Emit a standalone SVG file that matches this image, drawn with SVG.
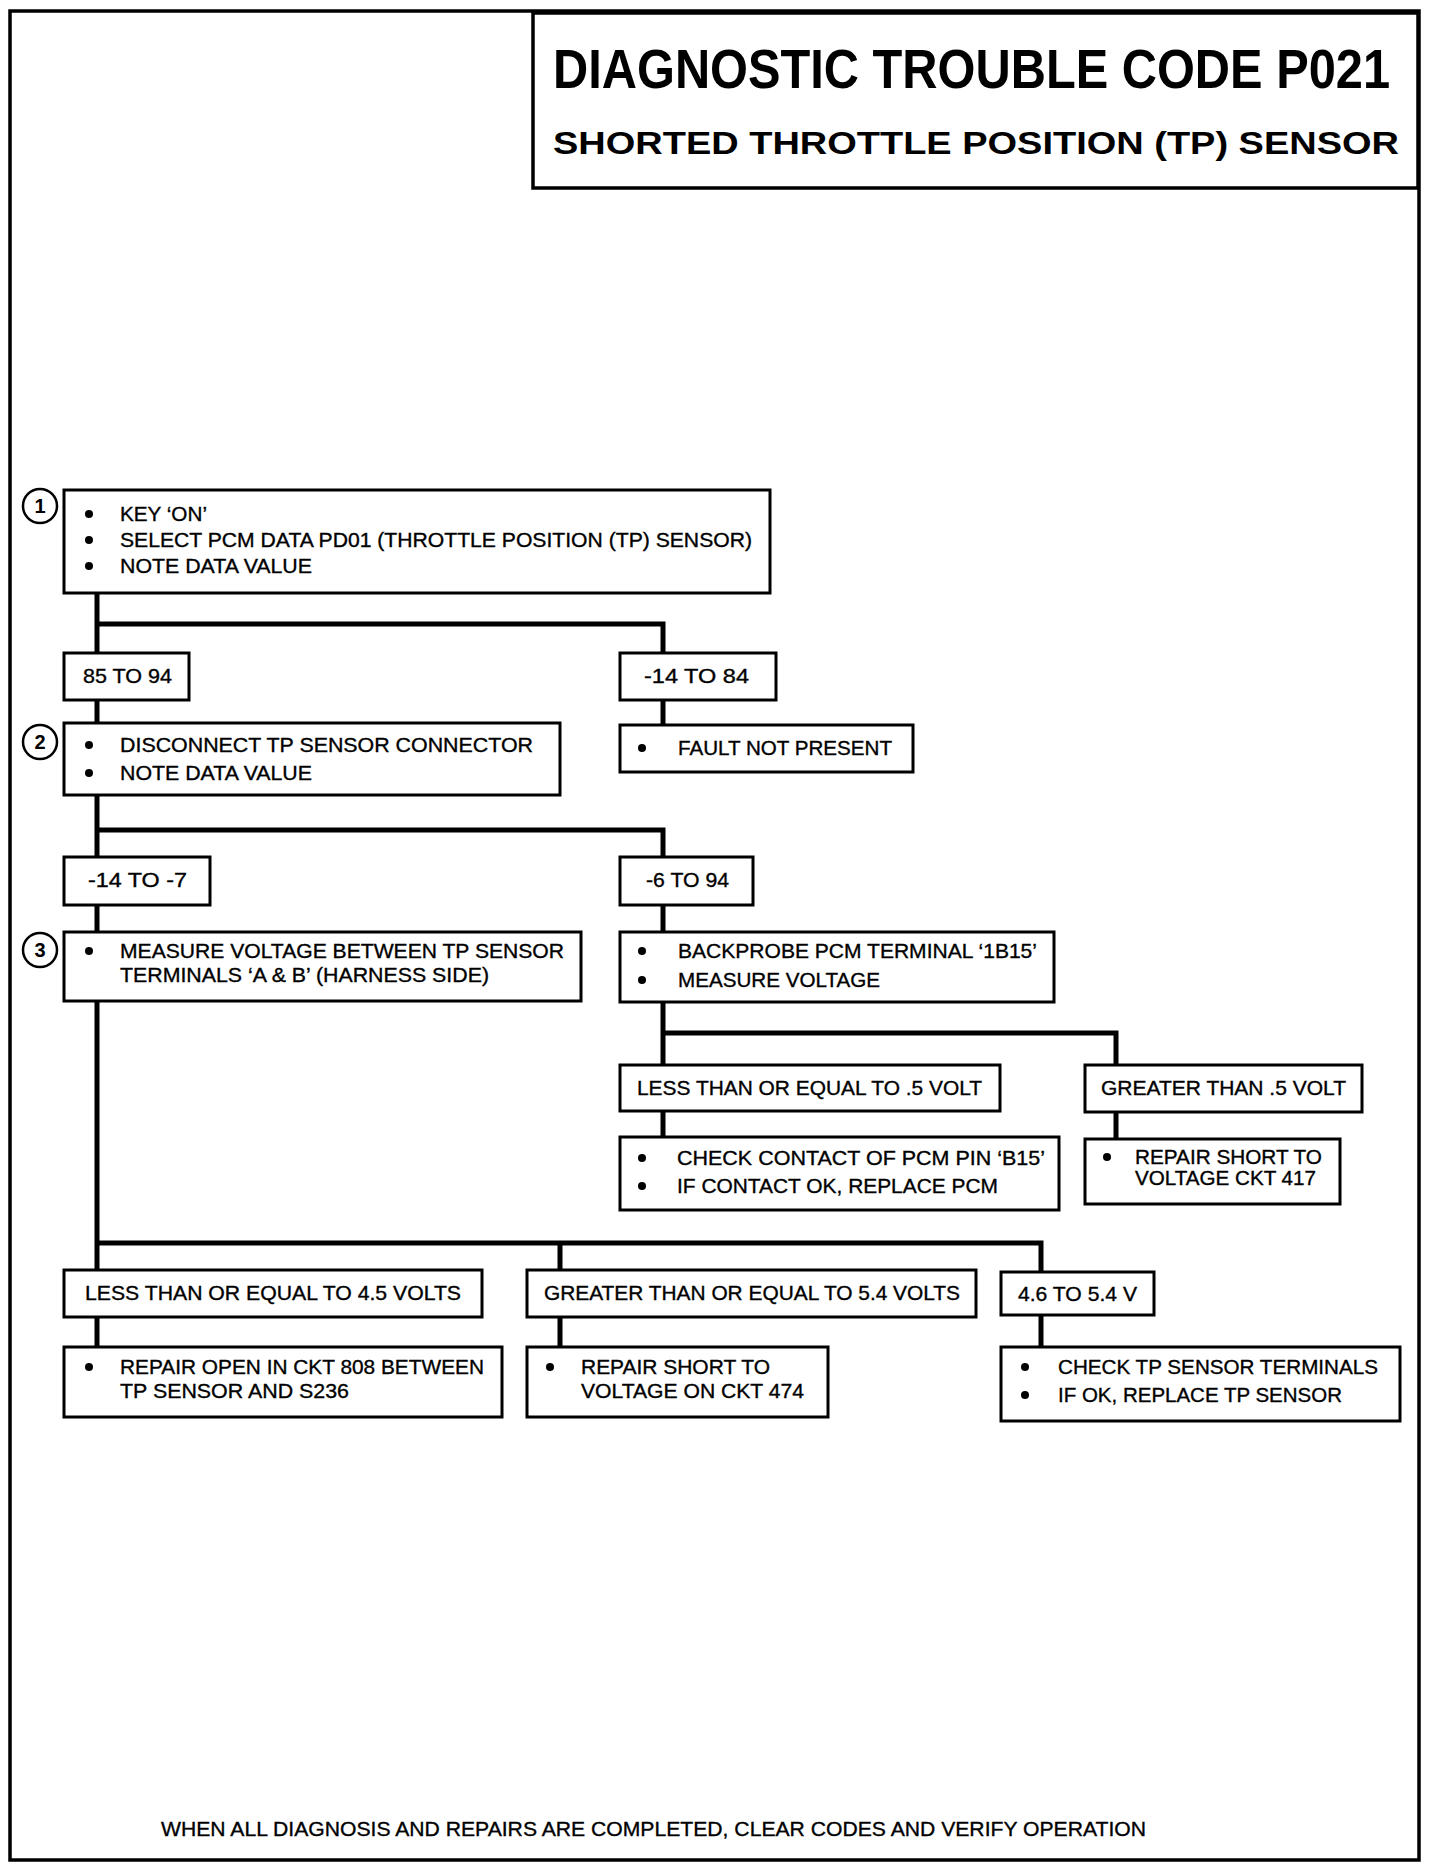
<svg xmlns="http://www.w3.org/2000/svg" width="1440" height="1868" viewBox="0 0 1440 1868">
<style>
.frame{fill:none;stroke:#000;stroke-width:3.5}
.box{fill:#fff;stroke:#000;stroke-width:3}
.conn{fill:none;stroke:#000;stroke-width:5;stroke-linecap:square;stroke-linejoin:miter}
.t{font-family:"Liberation Sans",Arial,Helvetica,sans-serif;font-size:21px;fill:#000;stroke:#000;stroke-width:0.35}
.h{font-family:"Liberation Sans",Arial,Helvetica,sans-serif;font-weight:bold;fill:#000}
.num{fill:#fff;stroke:#000;stroke-width:2.5}
.nt{font-family:"Liberation Sans",Arial,Helvetica,sans-serif;font-weight:bold;font-size:20px;fill:#000;text-anchor:middle}
</style>
<rect width="1440" height="1868" fill="#fff"/>
<rect class="frame" x="10" y="11" width="1409" height="1849"/>
<g id="title">
<rect class="frame" x="533" y="13" width="885" height="175"/>
<text class="h" transform="translate(553,88) scale(1,1.28)" x="0" y="0" font-size="44" textLength="837" lengthAdjust="spacingAndGlyphs">DIAGNOSTIC TROUBLE CODE P021</text>
<text class="h" x="553" y="154" font-size="31" textLength="846" lengthAdjust="spacingAndGlyphs">SHORTED THROTTLE POSITION (TP) SENSOR</text>
</g>
<g id="connectors">
<path class="conn" d="M97,593 V653 M97,624 H663 V653 M97,700 V723 M663,700 V725 M97,795 V857 M97,830 H663 V857 M97,905 V932 M663,905 V932 M97,1001 V1270 M663,1002 V1065 M663,1033 H1116 V1065 M663,1111 V1137 M1116,1112 V1139 M97,1243 H1041 V1272 M560,1243 V1270 M97,1317 V1347 M560,1317 V1347 M1041,1315 V1347"/>
</g>
<g id="step1">
<circle class="num" cx="40" cy="506" r="17"/><text class="nt" x="40" y="513">1</text>
<rect class="box" x="64" y="490" width="706" height="103"/>
<circle cx="89" cy="514" r="4"/><circle cx="89" cy="540" r="4"/><circle cx="89" cy="566" r="4"/>
<text class="t" x="120" y="521" textLength="87" lengthAdjust="spacingAndGlyphs">KEY ‘ON’</text>
<text class="t" x="120" y="547" textLength="632" lengthAdjust="spacingAndGlyphs">SELECT PCM DATA PD01 (THROTTLE POSITION (TP) SENSOR)</text>
<text class="t" x="120" y="573" textLength="192" lengthAdjust="spacingAndGlyphs">NOTE DATA VALUE</text>
</g>
<g id="r85to94">
<rect class="box" x="64" y="653" width="125" height="47"/>
<text class="t" x="83" y="683" textLength="89" lengthAdjust="spacingAndGlyphs">85 TO 94</text>
</g>
<g id="rm14to84">
<rect class="box" x="620" y="653" width="156" height="47"/>
<text class="t" x="644" y="683" textLength="105" lengthAdjust="spacingAndGlyphs">-14 TO 84</text>
</g>
<g id="step2">
<circle class="num" cx="40" cy="742" r="17"/><text class="nt" x="40" y="749">2</text>
<rect class="box" x="64" y="723" width="496" height="72"/>
<circle cx="89" cy="745" r="4"/><circle cx="89" cy="773" r="4"/>
<text class="t" x="120" y="752" textLength="413" lengthAdjust="spacingAndGlyphs">DISCONNECT TP SENSOR CONNECTOR</text>
<text class="t" x="120" y="780" textLength="192" lengthAdjust="spacingAndGlyphs">NOTE DATA VALUE</text>
</g>
<g id="faultnotpresent">
<rect class="box" x="620" y="725" width="293" height="47"/>
<circle cx="642" cy="748" r="4"/>
<text class="t" x="678" y="755" textLength="214" lengthAdjust="spacingAndGlyphs">FAULT NOT PRESENT</text>
</g>
<g id="rm14tom7">
<rect class="box" x="64" y="857" width="146" height="48"/>
<text class="t" x="88" y="887" textLength="99" lengthAdjust="spacingAndGlyphs">-14 TO -7</text>
</g>
<g id="rm6to94">
<rect class="box" x="620" y="857" width="133" height="48"/>
<text class="t" x="646" y="887" textLength="83" lengthAdjust="spacingAndGlyphs">-6 TO 94</text>
</g>
<g id="step3">
<circle class="num" cx="40" cy="950" r="17"/><text class="nt" x="40" y="957">3</text>
<rect class="box" x="64" y="932" width="517" height="69"/>
<circle cx="89" cy="951" r="4"/>
<text class="t" x="120" y="958" textLength="444" lengthAdjust="spacingAndGlyphs">MEASURE VOLTAGE BETWEEN TP SENSOR</text>
<text class="t" x="120" y="982" textLength="369" lengthAdjust="spacingAndGlyphs">TERMINALS ‘A &amp; B’ (HARNESS SIDE)</text>
</g>
<g id="backprobe">
<rect class="box" x="620" y="932" width="434" height="70"/>
<circle cx="642" cy="951" r="4"/><circle cx="642" cy="980" r="4"/>
<text class="t" x="678" y="958" textLength="359" lengthAdjust="spacingAndGlyphs">BACKPROBE PCM TERMINAL ‘1B15’</text>
<text class="t" x="678" y="987" textLength="202" lengthAdjust="spacingAndGlyphs">MEASURE VOLTAGE</text>
</g>
<g id="le05">
<rect class="box" x="620" y="1065" width="380" height="46"/>
<text class="t" x="637" y="1095" textLength="345" lengthAdjust="spacingAndGlyphs">LESS THAN OR EQUAL TO .5 VOLT</text>
</g>
<g id="gt05">
<rect class="box" x="1085" y="1065" width="277" height="47"/>
<text class="t" x="1101" y="1095" textLength="245" lengthAdjust="spacingAndGlyphs">GREATER THAN .5 VOLT</text>
</g>
<g id="checkcontact">
<rect class="box" x="620" y="1137" width="439" height="73"/>
<circle cx="642" cy="1158" r="4"/><circle cx="642" cy="1186" r="4"/>
<text class="t" x="677" y="1165" textLength="368" lengthAdjust="spacingAndGlyphs">CHECK CONTACT OF PCM PIN ‘B15’</text>
<text class="t" x="677" y="1193" textLength="321" lengthAdjust="spacingAndGlyphs">IF CONTACT OK, REPLACE PCM</text>
</g>
<g id="repair417">
<rect class="box" x="1085" y="1139" width="255" height="65"/>
<circle cx="1107" cy="1157" r="4"/>
<text class="t" x="1135" y="1164" textLength="187" lengthAdjust="spacingAndGlyphs">REPAIR SHORT TO</text>
<text class="t" x="1135" y="1185" textLength="181" lengthAdjust="spacingAndGlyphs">VOLTAGE CKT 417</text>
</g>
<g id="le45">
<rect class="box" x="64" y="1270" width="418" height="47"/>
<text class="t" x="85" y="1300" textLength="376" lengthAdjust="spacingAndGlyphs">LESS THAN OR EQUAL TO 4.5 VOLTS</text>
</g>
<g id="ge54">
<rect class="box" x="527" y="1270" width="449" height="47"/>
<text class="t" x="544" y="1300" textLength="416" lengthAdjust="spacingAndGlyphs">GREATER THAN OR EQUAL TO 5.4 VOLTS</text>
</g>
<g id="r46to54">
<rect class="box" x="1001" y="1272" width="153" height="43"/>
<text class="t" x="1018" y="1301" textLength="119" lengthAdjust="spacingAndGlyphs">4.6 TO 5.4 V</text>
</g>
<g id="repairopen">
<rect class="box" x="64" y="1347" width="438" height="70"/>
<circle cx="89" cy="1367" r="4"/>
<text class="t" x="120" y="1374" textLength="364" lengthAdjust="spacingAndGlyphs">REPAIR OPEN IN CKT 808 BETWEEN</text>
<text class="t" x="120" y="1398" textLength="229" lengthAdjust="spacingAndGlyphs">TP SENSOR AND S236</text>
</g>
<g id="repair474">
<rect class="box" x="527" y="1347" width="301" height="70"/>
<circle cx="550" cy="1367" r="4"/>
<text class="t" x="581" y="1374" textLength="189" lengthAdjust="spacingAndGlyphs">REPAIR SHORT TO</text>
<text class="t" x="581" y="1398" textLength="223" lengthAdjust="spacingAndGlyphs">VOLTAGE ON CKT 474</text>
</g>
<g id="checktp">
<rect class="box" x="1001" y="1347" width="399" height="74"/>
<circle cx="1025" cy="1367" r="4"/><circle cx="1025" cy="1395" r="4"/>
<text class="t" x="1058" y="1374" textLength="320" lengthAdjust="spacingAndGlyphs">CHECK TP SENSOR TERMINALS</text>
<text class="t" x="1058" y="1402" textLength="284" lengthAdjust="spacingAndGlyphs">IF OK, REPLACE TP SENSOR</text>
</g>
<g id="footer">
<text class="t" x="161" y="1836" font-size="19" textLength="985" lengthAdjust="spacingAndGlyphs">WHEN ALL DIAGNOSIS AND REPAIRS ARE COMPLETED, CLEAR CODES AND VERIFY OPERATION</text>
</g>
</svg>
